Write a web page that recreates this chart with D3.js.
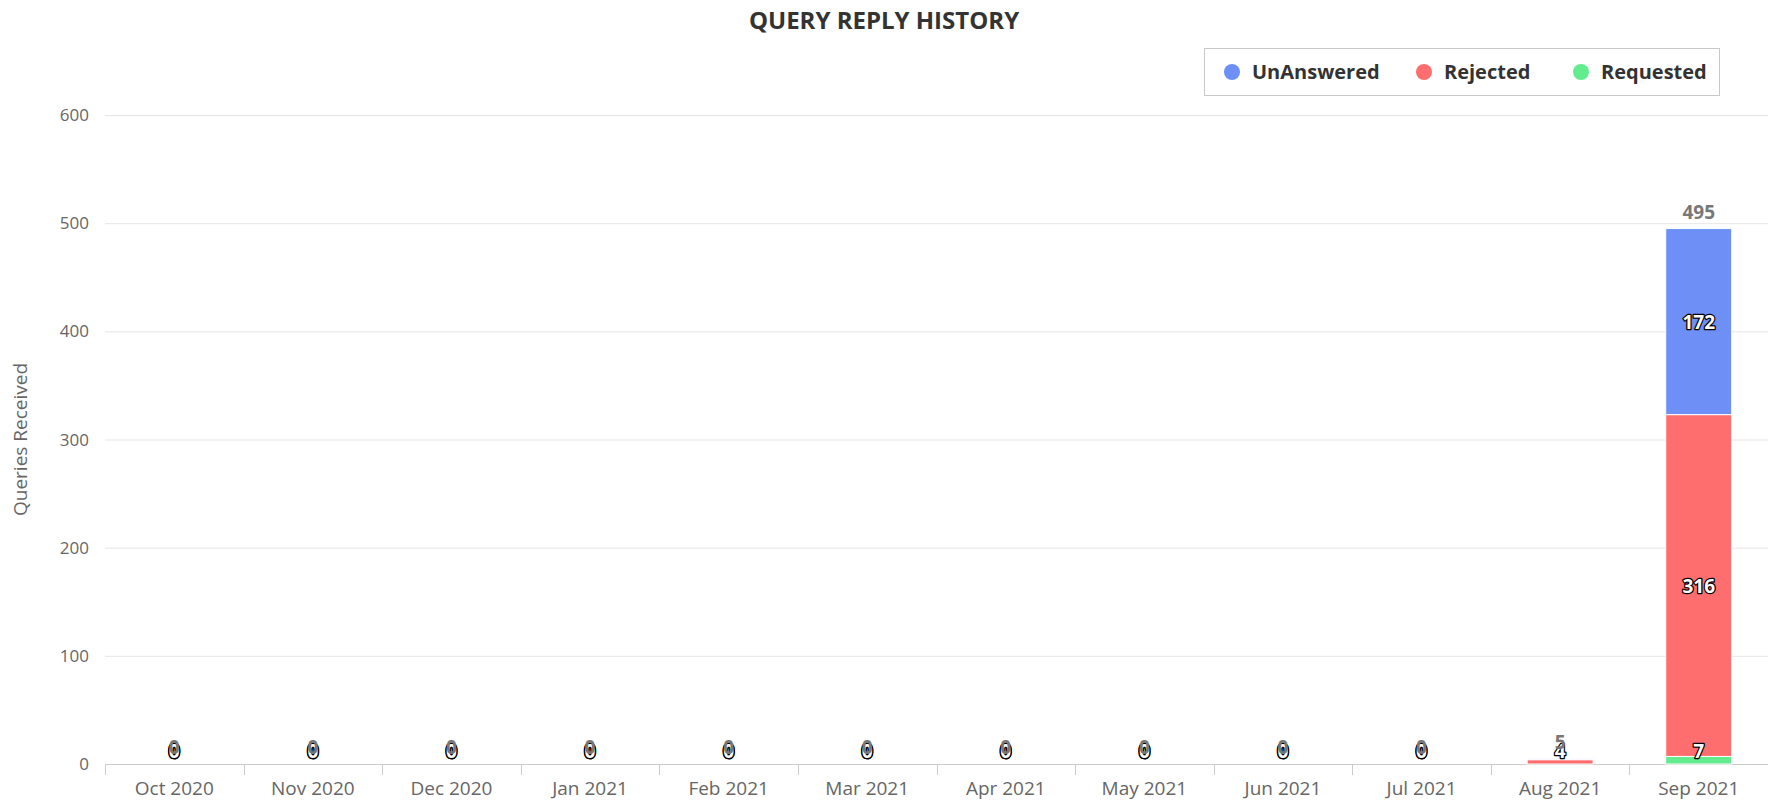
<!DOCTYPE html>
<html>
<head>
<meta charset="utf-8">
<script src="https://cdn.jsdelivr.net/npm/d3@7"></script>
<style>
  body { margin: 0; background: #fff; }
  svg { display: block; font-family: 'Open Sans', sans-serif; }
</style>
</head>
<body>
<div id="root"></div>
<script>
const SVG_WIDTH = 1768;
const SVG_HEIGHT = 801;
const MARGIN = { top: 115, right: 0, bottom: 37, left: 105 };

const months = ['Oct 2020', 'Nov 2020', 'Dec 2020', 'Jan 2021', 'Feb 2021', 'Mar 2021',
  'Apr 2021', 'May 2021', 'Jun 2021', 'Jul 2021', 'Aug 2021', 'Sep 2021'];
const requested = [0, 0, 0, 0, 0, 0, 0, 0, 0, 0, 0, 7];
const rejected = [0, 0, 0, 0, 0, 0, 0, 0, 0, 0, 4, 316];
const unanswered = [0, 0, 0, 0, 0, 0, 0, 0, 0, 0, 1, 172];
const yTicks = [0, 100, 200, 300, 400, 500, 600];

// bottom to top order of the stack
const seriesNames = ['Requested', 'Rejected', 'UnAnswered'];
const seriesColors = ['#63ec8e', '#ff6e6e', '#6d8ff6'];
const legendOrder = [2, 1, 0];

function addSvg() {
  const svg = document.createElementNS('http://www.w3.org/2000/svg', 'svg');
  svg.id = 'svg';
  svg.setAttribute('width', SVG_WIDTH);
  svg.setAttribute('height', SVG_HEIGHT);
  return svg;
}

function main() {
  const svg = d3.select('#svg');
  const plotW = SVG_WIDTH - MARGIN.left - MARGIN.right;
  const plotH = SVG_HEIGHT - MARGIN.top - MARGIN.bottom;
  const base = MARGIN.top + plotH;

  const x = d3.scaleBand().domain(months).range([MARGIN.left, MARGIN.left + plotW]).paddingInner(0).paddingOuter(0);
  const y = d3.scaleLinear().domain([0, 600]).range([base, MARGIN.top]);

  // title
  svg.append('text')
    .attr('x', SVG_WIDTH / 2).attr('y', 29)
    .attr('text-anchor', 'middle')
    .attr('font-size', 24).attr('font-weight', 'bold').attr('fill', '#333')
    .text('QUERY REPLY HISTORY');

  // grid
  svg.append('g').selectAll('line').data(yTicks.filter((t) => t > 0)).join('line')
    .attr('x1', MARGIN.left).attr('x2', MARGIN.left + plotW)
    .attr('y1', (d) => y(d) + 0.5).attr('y2', (d) => y(d) + 0.5)
    .attr('stroke', '#e6e6e6');

  // y tick labels
  svg.append('g').selectAll('text').data(yTicks).join('text')
    .attr('x', 89).attr('y', (d) => y(d) + 6)
    .attr('text-anchor', 'end').attr('font-size', 17).attr('fill', '#666')
    .text((d) => d);

  svg.append('text')
    .attr('transform', `translate(27,${MARGIN.top + plotH / 2}) rotate(-90)`)
    .attr('text-anchor', 'middle').attr('font-size', 19).attr('fill', '#666')
    .text('Queries Received');

  // x axis
  const xAxis = svg.append('g');
  xAxis.append('line')
    .attr('x1', MARGIN.left).attr('x2', MARGIN.left + plotW)
    .attr('y1', base + 0.5).attr('y2', base + 0.5).attr('stroke', '#ccc');
  xAxis.selectAll('.tick').data(months).join('line')
    .attr('x1', (d) => Math.round(x(d)) + 0.5).attr('x2', (d) => Math.round(x(d)) + 0.5)
    .attr('y1', base).attr('y2', base + 11).attr('stroke', '#ccc');
  xAxis.selectAll('text').data(months).join('text')
    .attr('x', (d) => x(d) + x.bandwidth() / 2).attr('y', base + 31)
    .attr('text-anchor', 'middle').attr('font-size', 19).attr('fill', '#666')
    .text((d) => d);

  // stacked bars
  const rows = months.map((m, i) => ({ month: m, Requested: requested[i], Rejected: rejected[i], UnAnswered: unanswered[i] }));
  const stacked = d3.stack().keys(seriesNames)(rows);
  const barW = x.bandwidth() * 0.476;
  const barX = (m) => x(m) + (x.bandwidth() - barW) / 2;

  svg.append('g').selectAll('g').data(stacked).join('g')
    .attr('fill', (d, i) => seriesColors[i])
    .selectAll('rect').data((d) => d.filter((p) => p[1] > p[0])).join('rect')
    .attr('x', (p) => barX(p.data.month))
    .attr('width', barW)
    .attr('y', (p) => y(p[1]))
    .attr('height', (p) => y(p[0]) - y(p[1]))
    .attr('stroke', '#fff').attr('stroke-width', 1);

  // data labels
  const labelLayer = svg.append('g').attr('font-size', 19).attr('font-weight', 'bold').attr('text-anchor', 'middle');
  months.forEach((m, i) => {
    const total = requested[i] + rejected[i] + unanswered[i];
    const cx = x(m) + x.bandwidth() / 2;
    const drawn = [];
    const pts = stacked.map((s) => ({ v: s[i][1] - s[i][0], lo: s[i][0], hi: s[i][1] }))
      .sort((a, b) => b.v - a.v);
    pts.forEach((p) => {
      const cy = Math.min((y(p.lo) + y(p.hi)) / 2, base - 13);
      if (total > 0) {
        if (p.v === 0) return;
        if (drawn.some((d) => Math.abs(d - cy) < 18)) return;
      }
      drawn.push(cy);
      labelLayer.append('text')
        .attr('x', cx).attr('y', cy + 7)
        .attr('fill', '#fff').attr('stroke', '#000').attr('stroke-width', 2.5)
        .attr('stroke-linejoin', 'round').attr('paint-order', 'stroke')
        .text(p.v);
    });
    // stack total
    labelLayer.append('text')
      .attr('x', cx).attr('y', y(total) - 10)
      .attr('fill', '#777')
      .text(total);
  });

  // legend
  const legend = svg.append('g');
  legend.append('rect')
    .attr('x', 1204.5).attr('y', 48.5).attr('width', 515).attr('height', 47)
    .attr('fill', '#fff').attr('stroke', '#c8c8c8');
  const legendX = [1232, 1424, 1581];
  legendOrder.forEach((s, k) => {
    legend.append('circle').attr('cx', legendX[k]).attr('cy', 72).attr('r', 8).attr('fill', seriesColors[s]);
    legend.append('text').attr('x', legendX[k] + 20).attr('y', 79)
      .attr('font-size', 20).attr('font-weight', 'bold').attr('fill', '#333')
      .text(seriesNames[s]);
  });
}

const root = document.getElementById('root');
root.appendChild(addSvg());
main();
</script>
</body>
</html>
